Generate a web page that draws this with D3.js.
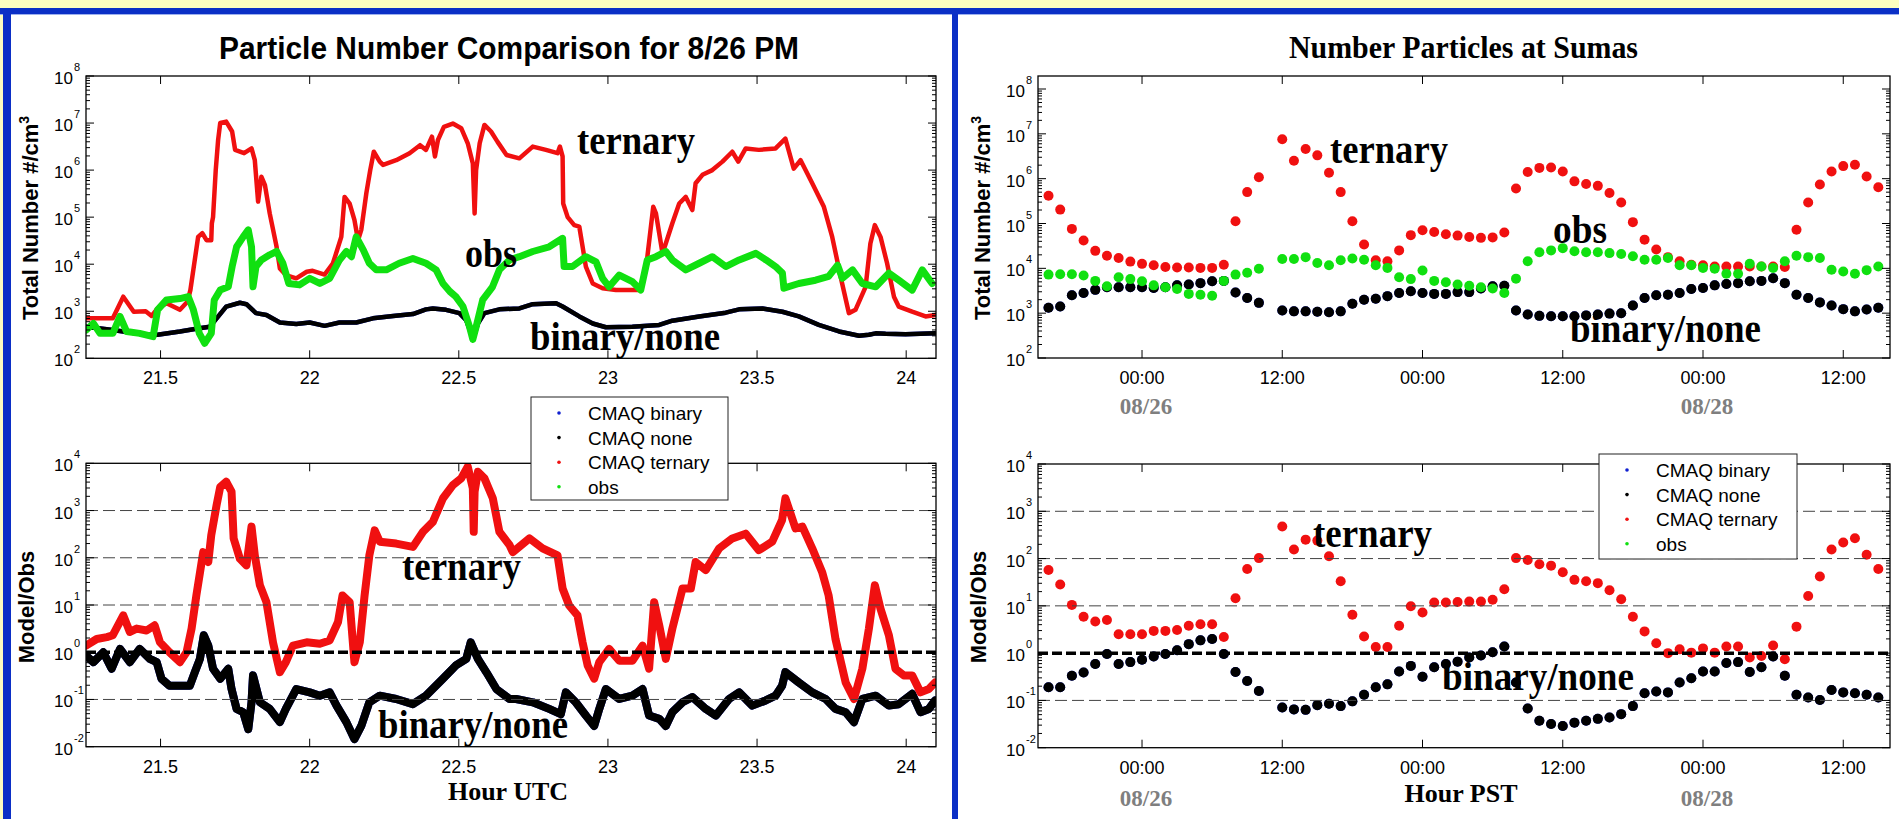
<!DOCTYPE html>
<html>
<head>
  <meta charset="utf-8">
  <script src="https://d3js.org/d3.v7.min.js"></script>
  <style>
    body { margin: 0; background: #fff; }
    text { font-family: "Liberation Sans", Arial, sans-serif; }
    .serif { font-family: "Liberation Serif", "Times New Roman", serif; font-weight: bold; }
  </style>
</head>
<body>
<svg id="fig" width="1899" height="819"></svg>
<script>
"use strict";

/*
  Left panel: 1 s data as [hour UTC, log10(value)]
*/
var cmaqTernary = [[21.25,2.85],[21.34,2.85],[21.375,3.31],[21.41,2.99],[21.45,3.0],[21.47,2.9],[21.49,3.06],[21.52,3.17],[21.565,3.03],[21.59,3.2],[21.60,3.45],[21.626,4.58],[21.64,4.66],[21.654,4.51],[21.67,4.51],[21.672,4.87],[21.676,5.0],[21.685,6.0],[21.693,6.64],[21.70,7.0],[21.72,7.03],[21.74,6.82],[21.75,6.43],[21.78,6.36],[21.805,6.46],[21.816,6.21],[21.827,5.33],[21.838,5.86],[21.85,5.68],[21.866,5.08],[21.889,4.37],[21.90,3.91],[21.92,3.77],[21.955,3.70],[21.99,3.84],[22.01,3.86],[22.05,3.78],[22.078,4.02],[22.106,4.58],[22.117,5.43],[22.134,5.29],[22.15,4.94],[22.162,4.51],[22.173,4.73],[22.19,5.51],[22.203,6.0],[22.215,6.39],[22.235,6.18],[22.246,6.11],[22.29,6.21],[22.335,6.36],[22.37,6.53],[22.39,6.43],[22.41,6.71],[22.42,6.29],[22.43,6.64],[22.45,6.92],[22.48,6.99],[22.508,6.89],[22.53,6.57],[22.547,6.14],[22.553,5.08],[22.558,6.0],[22.57,6.57],[22.586,6.96],[22.608,6.82],[22.63,6.60],[22.66,6.32],[22.703,6.25],[22.748,6.50],[22.792,6.43],[22.831,6.36],[22.839,6.50],[22.848,6.29],[22.85,5.29],[22.865,5.0],[22.887,4.83],[22.904,4.80],[22.926,3.95],[22.949,3.59],[22.982,3.49],[23.027,3.45],[23.082,3.45],[23.11,3.45],[23.127,3.88],[23.152,5.22],[23.161,5.08],[23.183,4.23],[23.194,4.44],[23.216,4.87],[23.239,5.29],[23.261,5.43],[23.283,5.15],[23.294,5.72],[23.317,5.90],[23.35,6.0],[23.384,6.18],[23.417,6.39],[23.437,6.18],[23.462,6.46],[23.506,6.43],[23.562,6.46],[23.595,6.67],[23.623,6.03],[23.646,6.21],[23.685,5.72],[23.724,5.22],[23.752,4.58],[23.78,3.74],[23.808,2.96],[23.83,3.03],[23.864,3.52],[23.88,4.44],[23.895,4.83],[23.914,4.58],[23.936,4.02],[23.959,3.31],[23.975,3.10],[24.02,2.99],[24.065,2.89],[24.097,2.92]];

var cmaqObs = [[21.25,2.60],[21.275,2.74],[21.297,2.53],[21.34,2.53],[21.364,2.89],[21.386,2.57],[21.43,2.53],[21.475,2.46],[21.49,3.03],[21.52,3.24],[21.565,3.27],[21.593,3.31],[21.61,3.03],[21.63,2.53],[21.648,2.32],[21.67,2.53],[21.68,3.24],[21.70,3.45],[21.727,3.52],[21.74,3.95],[21.755,4.37],[21.777,4.58],[21.794,4.73],[21.805,4.37],[21.81,3.52],[21.82,3.95],[21.838,4.09],[21.866,4.20],[21.889,4.27],[21.91,4.02],[21.93,3.59],[21.966,3.56],[22.0,3.70],[22.034,3.59],[22.067,3.70],[22.10,4.09],[22.123,4.27],[22.14,4.16],[22.156,4.58],[22.18,4.30],[22.20,4.02],[22.223,3.88],[22.257,3.88],[22.30,4.02],[22.346,4.12],[22.39,4.02],[22.424,3.88],[22.447,3.59],[22.47,3.42],[22.49,3.31],[22.514,3.10],[22.536,2.67],[22.547,2.40],[22.558,2.67],[22.58,3.24],[22.613,3.52],[22.636,3.88],[22.67,4.09],[22.703,4.16],[22.748,4.27],[22.803,4.37],[22.848,4.55],[22.853,3.95],[22.881,3.95],[22.926,4.16],[22.96,4.05],[22.982,3.70],[23.004,3.52],[23.038,3.77],[23.082,3.63],[23.11,3.45],[23.132,4.09],[23.161,4.16],[23.194,4.27],[23.216,4.09],[23.261,3.88],[23.306,4.02],[23.35,4.16],[23.395,3.95],[23.44,4.09],[23.496,4.23],[23.53,4.09],[23.562,3.95],[23.585,3.81],[23.59,3.49],[23.64,3.59],[23.696,3.66],[23.74,3.74],[23.77,3.98],[23.786,3.70],[23.82,3.88],[23.853,3.59],[23.898,3.52],[23.942,3.81],[23.975,3.66],[24.02,3.45],[24.054,3.88],[24.087,3.59]];

// binary and none overlap, one reading serves both
var cmaqNone = [[21.25,2.67],[21.34,2.60],[21.45,2.50],[21.49,2.50],[21.565,2.57],[21.63,2.64],[21.665,2.67],[21.688,2.85],[21.72,3.10],[21.766,3.18],[21.788,3.15],[21.82,2.96],[21.855,2.92],[21.90,2.76],[21.955,2.73],[22.0,2.76],[22.05,2.69],[22.10,2.76],[22.156,2.76],[22.212,2.85],[22.28,2.90],[22.346,2.94],[22.39,3.04],[22.413,3.06],[22.457,3.03],[22.502,2.96],[22.525,2.81],[22.54,2.55],[22.55,2.45],[22.564,2.74],[22.586,2.96],[22.636,3.04],[22.703,3.06],[22.748,3.15],[22.826,3.17],[22.848,3.10],[22.904,2.89],[22.949,2.74],[22.993,2.66],[23.082,2.67],[23.172,2.71],[23.216,2.80],[23.306,2.89],[23.395,2.97],[23.44,3.04],[23.518,3.06],[23.585,2.99],[23.64,2.89],[23.707,2.71],[23.775,2.57],[23.842,2.48],[23.875,2.50],[23.898,2.53],[23.931,2.52],[23.998,2.51],[24.097,2.53]];
var cmaqBinary = cmaqNone;

var ratioTernary = [[21.25,0.14],[21.286,0.28],[21.32,0.32],[21.34,0.36],[21.375,0.78],[21.397,0.43],[21.42,0.50],[21.453,0.46],[21.48,0.57],[21.498,0.21],[21.53,0.0],[21.565,-0.21],[21.587,0.0],[21.604,0.50],[21.62,1.20],[21.643,2.12],[21.66,1.91],[21.67,2.48],[21.688,3.12],[21.70,3.50],[21.72,3.61],[21.738,3.40],[21.745,2.41],[21.766,1.98],[21.788,1.84],[21.805,2.66],[21.816,2.05],[21.833,1.42],[21.855,1.06],[21.877,0.21],[21.90,-0.42],[21.92,-0.21],[21.944,0.14],[21.99,0.21],[22.034,0.18],[22.067,0.25],[22.095,0.64],[22.11,1.20],[22.134,1.06],[22.15,-0.21],[22.168,0.21],[22.184,1.20],[22.20,2.05],[22.218,2.58],[22.235,2.34],[22.29,2.30],[22.346,2.23],[22.38,2.55],[22.413,2.76],[22.447,3.26],[22.48,3.54],[22.508,3.68],[22.53,3.93],[22.547,3.47],[22.55,2.55],[22.553,3.40],[22.564,3.82],[22.586,3.68],[22.614,3.26],[22.636,2.55],[22.67,2.27],[22.681,2.12],[22.737,2.41],[22.781,2.20],[22.831,2.05],[22.848,1.35],[22.87,0.99],[22.898,0.78],[22.915,0.21],[22.932,-0.28],[22.954,-0.56],[22.971,-0.21],[23.004,0.07],[23.038,-0.18],[23.082,-0.18],[23.116,0.14],[23.138,-0.35],[23.155,1.06],[23.172,0.57],[23.194,-0.14],[23.216,0.50],[23.25,1.35],[23.278,1.35],[23.294,1.91],[23.328,1.74],[23.373,2.20],[23.417,2.41],[23.462,2.51],[23.506,2.16],[23.551,2.34],[23.584,2.80],[23.595,3.26],[23.612,2.94],[23.629,2.62],[23.652,2.66],[23.685,2.20],[23.718,1.70],[23.74,1.20],[23.763,0.28],[23.797,-0.64],[23.825,-0.99],[23.853,-0.35],[23.875,0.50],[23.895,1.42],[23.914,0.92],[23.942,0.36],[23.964,-0.35],[23.992,-0.49],[24.02,-0.49],[24.048,-0.85],[24.076,-0.78],[24.097,-0.64]];

var ratioNone = [[21.25,-0.07],[21.275,-0.21],[21.308,0.0],[21.336,-0.35],[21.364,0.07],[21.397,-0.21],[21.43,0.07],[21.464,-0.14],[21.487,-0.21],[21.503,-0.56],[21.53,-0.71],[21.565,-0.71],[21.598,-0.71],[21.615,-0.42],[21.632,-0.14],[21.645,0.36],[21.66,0.14],[21.676,-0.35],[21.70,-0.56],[21.727,-0.35],[21.738,-0.78],[21.755,-1.20],[21.777,-1.27],[21.794,-1.63],[21.805,-1.06],[21.81,-0.49],[21.833,-1.06],[21.866,-1.20],[21.90,-1.48],[21.92,-1.20],[21.955,-0.78],[22.0,-0.85],[22.034,-0.92],[22.067,-0.85],[22.09,-1.13],[22.123,-1.48],[22.15,-1.84],[22.173,-1.56],[22.20,-1.06],[22.235,-0.92],[22.29,-0.99],[22.346,-1.10],[22.39,-0.92],[22.447,-0.56],[22.49,-0.28],[22.525,-0.14],[22.54,0.21],[22.564,-0.14],[22.592,-0.42],[22.626,-0.78],[22.67,-0.99],[22.692,-0.99],[22.748,-1.06],[22.803,-1.20],[22.842,-1.31],[22.859,-0.85],[22.892,-1.06],[22.926,-1.34],[22.954,-1.56],[22.971,-1.20],[22.993,-0.78],[23.038,-0.99],[23.082,-0.92],[23.116,-0.78],[23.138,-1.34],[23.172,-1.41],[23.194,-1.56],[23.216,-1.27],[23.25,-1.06],[23.283,-0.95],[23.328,-1.20],[23.362,-1.34],[23.406,-0.99],[23.44,-0.85],[23.484,-1.13],[23.529,-1.02],[23.562,-0.92],[23.584,-0.71],[23.595,-0.42],[23.64,-0.64],[23.685,-0.85],[23.73,-0.99],[23.763,-1.20],[23.797,-1.27],[23.825,-1.48],[23.853,-0.99],[23.898,-0.92],[23.942,-1.13],[23.975,-1.10],[24.02,-0.88],[24.048,-1.27],[24.076,-1.20],[24.097,-1.02]];
var ratioBinary = ratioNone;

/*
  Right panel: hourly values at Sumas, hours PST from 08/26 00:00, log10
*/
var sumasHours = [-8,-7,-6,-5,-4,-3,-2,-1,0,1,2,3,4,5,6,7,8,9,10,12,13,14,15,16,17,18,19,20,21,22,23,24,25,26,27,28,29,30,31,32,33,34,35,36,37,38,39,40,41,42,43,44,45,46,47,48,49,50,51,52,53,54,55,56,57,58,59,60,61,62,63];

var sumasTernary = [5.62,5.31,4.88,4.62,4.39,4.28,4.23,4.15,4.10,4.07,4.03,4.02,4.02,4.01,4.01,4.08,5.05,5.70,6.03,6.88,6.40,6.66,6.52,6.13,5.70,5.05,4.53,4.18,4.16,4.40,4.74,4.85,4.81,4.76,4.73,4.70,4.68,4.69,4.80,5.78,6.15,6.24,6.25,6.16,5.94,5.88,5.84,5.68,5.47,5.03,4.64,4.42,4.25,4.16,4.08,4.07,4.04,4.04,4.04,4.04,4.04,4.04,4.03,4.86,5.47,5.87,6.16,6.28,6.31,6.05,5.81];
var sumasObs = [3.86,3.87,3.87,3.84,3.72,3.60,3.80,3.76,3.71,3.62,3.58,3.54,3.43,3.41,3.39,3.72,3.86,3.90,3.99,4.21,4.21,4.25,4.12,4.07,4.18,4.22,4.19,4.07,4.01,3.80,3.76,3.95,3.72,3.69,3.64,3.61,3.58,3.55,3.45,3.77,4.16,4.36,4.40,4.45,4.38,4.36,4.36,4.34,4.32,4.27,4.19,4.19,4.23,4.07,4.07,4.01,3.99,3.88,3.88,4.10,4.04,4.01,4.16,4.28,4.25,4.23,3.97,3.93,3.88,3.96,4.04];
var sumasNone = [3.12,3.15,3.40,3.45,3.52,3.58,3.58,3.58,3.58,3.56,3.58,3.62,3.64,3.67,3.71,3.72,3.46,3.34,3.23,3.06,3.04,3.04,3.03,3.02,3.04,3.21,3.30,3.32,3.38,3.45,3.49,3.45,3.43,3.43,3.47,3.47,3.55,3.60,3.61,3.06,2.97,2.94,2.93,2.93,2.93,2.95,2.97,2.99,3.00,3.17,3.34,3.40,3.41,3.45,3.54,3.56,3.62,3.65,3.67,3.71,3.72,3.78,3.67,3.41,3.34,3.24,3.17,3.09,3.04,3.08,3.12];
var sumasBinary = sumasNone;

var sumasRatioTernary = [1.76,1.45,1.02,0.77,0.67,0.70,0.40,0.40,0.40,0.47,0.47,0.49,0.58,0.61,0.61,0.34,1.16,1.78,2.01,2.68,2.19,2.40,2.38,2.05,1.52,0.81,0.35,0.13,0.13,0.58,0.99,0.86,1.07,1.07,1.08,1.09,1.09,1.13,1.35,2.01,1.97,1.88,1.85,1.71,1.55,1.52,1.48,1.33,1.14,0.77,0.46,0.21,0.00,0.08,0.01,0.10,0.01,0.14,0.14,-0.09,-0.06,0.16,-0.13,0.56,1.21,1.62,2.19,2.34,2.43,2.08,1.78];
var sumasRatioNone = [-0.72,-0.72,-0.48,-0.41,-0.23,-0.02,-0.23,-0.19,-0.14,-0.07,-0.02,0.06,0.19,0.27,0.30,-0.02,-0.40,-0.59,-0.80,-1.15,-1.19,-1.20,-1.10,-1.07,-1.12,-1.02,-0.88,-0.72,-0.66,-0.39,-0.27,-0.50,-0.30,-0.23,-0.18,-0.09,-0.05,0.02,0.14,-0.62,-1.17,-1.43,-1.50,-1.54,-1.47,-1.43,-1.39,-1.36,-1.29,-1.12,-0.85,-0.81,-0.83,-0.62,-0.53,-0.39,-0.39,-0.21,-0.19,-0.40,-0.30,-0.07,-0.48,-0.88,-0.94,-0.99,-0.78,-0.83,-0.85,-0.88,-0.94];
var sumasRatioBinary = sumasRatioNone;

var utcTicks = [21.5, 22, 22.5, 23, 23.5, 24];
var pstTicks = [0, 12, 24, 36, 48, 60];
var pstTickLabels = ["00:00", "12:00", "00:00", "12:00", "00:00", "12:00"];
var dateTicks = [0, 48];
var dateLabels = ["08/26", "08/28"];
var ratioGrid = [1e3, 1e2, 1e1, 1e-1];
var legendNames = ["CMAQ binary", "CMAQ none", "CMAQ ternary", "obs"];
var seriesColors = ["#1020d0", "#000000", "#f01010", "#10e010"];

/*
  Page setup
*/
var svg = d3.select("#fig");
var blue = "#0b2fc6";
svg.append("rect").attr("width", 1899).attr("height", 819).attr("fill", "#fff");
svg.append("rect").attr("width", 1899).attr("height", 8).attr("fill", "#fdfdc0");
svg.append("rect").attr("width", 3).attr("height", 819).attr("fill", "#fdfdc0");
svg.append("rect").attr("y", 8).attr("width", 1899).attr("height", 6).attr("fill", blue);
svg.append("rect").attr("y", 14).attr("width", 1899).attr("height", 1).attr("fill", "#9db0ee");
svg.append("rect").attr("x", 3).attr("y", 8).attr("width", 8).attr("height", 811).attr("fill", blue);
svg.append("rect").attr("x", 952).attr("y", 8).attr("width", 6).attr("height", 811).attr("fill", blue);

var clipId = 0;
function pow10(v) { return Math.pow(10, v); }

// matlab style box: ticks inside on all four sides, log minor ticks on y
function drawBox(x, y, xTicks, xLabels) {
  var g = svg.append("g");
  var x0 = x.range()[0], x1 = x.range()[1];
  var yb = y.range()[0], yt = y.range()[1];
  var lo = Math.log10(y.domain()[0]), hi = Math.log10(y.domain()[1]);
  for (var k = Math.floor(lo); k <= Math.ceil(hi); k++) {
    for (var m = 1; m < 10; m++) {
      var lv = Math.log10(m * Math.pow(10, k));
      if (lv < lo - 1e-6 || lv > hi + 1e-6) continue;
      var yy = y(pow10(lv));
      var len = m === 1 ? 8 : 4;
      g.append("line").attr("x1", x0).attr("x2", x0 + len).attr("y1", yy).attr("y2", yy)
        .attr("stroke", "#000").attr("stroke-width", 1);
      g.append("line").attr("x1", x1).attr("x2", x1 - len).attr("y1", yy).attr("y2", yy)
        .attr("stroke", "#000").attr("stroke-width", 1);
    }
  }
  for (var e = Math.ceil(lo - 1e-6); e <= Math.floor(hi + 1e-6); e++) {
    var ty = y(pow10(e));
    g.append("text").attr("x", x0 - 13).attr("y", ty + 8).attr("text-anchor", "end")
      .attr("font-size", 17).text("10");
    g.append("text").attr("x", x0 - 12).attr("y", ty - 5).attr("font-size", 11).text(e);
  }
  xTicks.forEach(function(t, i) {
    var xx = x(t);
    g.append("line").attr("x1", xx).attr("x2", xx).attr("y1", yb).attr("y2", yb - 8)
      .attr("stroke", "#000");
    g.append("line").attr("x1", xx).attr("x2", xx).attr("y1", yt).attr("y2", yt + 8)
      .attr("stroke", "#000");
    g.append("text").attr("x", xx).attr("y", yb + 26).attr("text-anchor", "middle")
      .attr("font-size", 18).text(xLabels[i]);
  });
  g.append("rect").attr("x", x0).attr("y", yt).attr("width", x1 - x0).attr("height", yb - yt)
    .attr("fill", "none").attr("stroke", "#000").attr("stroke-width", 1.3);
}

function makeClip(x, y) {
  clipId += 1;
  var id = "clip" + clipId;
  svg.append("clipPath").attr("id", id).append("rect")
    .attr("x", x.range()[0]).attr("y", y.range()[1])
    .attr("width", x.range()[1] - x.range()[0]).attr("height", y.range()[0] - y.range()[1]);
  return "url(#" + id + ")";
}

function drawLine(x, y, clip, data, color, width) {
  var line = d3.line().x(function(d) { return x(d[0]); }).y(function(d) { return y(pow10(d[1])); });
  svg.append("path").datum(data).attr("d", line).attr("clip-path", clip)
    .attr("fill", "none").attr("stroke", color).attr("stroke-width", width)
    .attr("stroke-linejoin", "round").attr("stroke-linecap", "round");
}

function drawDots(x, y, clip, values, color) {
  svg.append("g").attr("clip-path", clip).selectAll("circle").data(values).enter()
    .append("circle")
      .attr("cx", function(d, i) { return x(sumasHours[i]); })
      .attr("cy", function(d) { return y(pow10(d)); })
      .attr("r", 5).attr("fill", color);
}

function drawRatioGrid(x, y) {
  ratioGrid.forEach(function(v) {
    svg.append("line").attr("x1", x.range()[0]).attr("x2", x.range()[1])
      .attr("y1", y(v)).attr("y2", y(v))
      .attr("stroke", "#444").attr("stroke-width", 1).attr("stroke-dasharray", "12,5");
  });
  svg.append("line").attr("x1", x.range()[0]).attr("x2", x.range()[1])
    .attr("y1", y(1)).attr("y2", y(1))
    .attr("stroke", "#000").attr("stroke-width", 3.5).attr("stroke-dasharray", "10,4");
}

function yTitle(cx, cy, label, sup) {
  var t = svg.append("text").attr("transform", "translate(" + cx + "," + cy + ") rotate(-90)")
    .attr("text-anchor", "middle").attr("font-size", 22).attr("font-weight", "bold").text(label);
  if (sup) t.append("tspan").attr("dy", -9).attr("font-size", 14).text(sup);
}

function bigLabel(txt, x, y, w) {
  svg.append("text").attr("class", "serif").attr("x", x).attr("y", y)
    .attr("font-size", 40).attr("textLength", w).attr("lengthAdjust", "spacingAndGlyphs")
    .text(txt);
}

function legend(x, y, w, h) {
  var g = svg.append("g");
  g.append("rect").attr("x", x).attr("y", y).attr("width", w).attr("height", h)
    .attr("fill", "#fff").attr("stroke", "#222").attr("stroke-width", 1);
  legendNames.forEach(function(n, i) {
    var ry = y + 16 + i * 24.6;
    g.append("circle").attr("cx", x + 28).attr("cy", ry).attr("r", 1.8).attr("fill", seriesColors[i]);
    g.append("text").attr("x", x + 57).attr("y", ry + 7).attr("font-size", 19).text(n);
  });
}

/*
  Left: Particle Number Comparison for 8/26 PM
*/
var xUtc = d3.scaleLinear().domain([21.25, 24.1]).range([86, 936]);
var yNumL = d3.scaleLog().domain([1e2, 1e8]).range([358.3, 76]);
var yRatL = d3.scaleLog().domain([1e-2, 1e4]).range([746.7, 463.3]);

var c1 = makeClip(xUtc, yNumL);
drawLine(xUtc, yNumL, c1, cmaqBinary, seriesColors[0], 4.5);
drawLine(xUtc, yNumL, c1, cmaqNone, seriesColors[1], 4.5);
drawLine(xUtc, yNumL, c1, cmaqTernary, seriesColors[2], 4.5);
drawLine(xUtc, yNumL, c1, cmaqObs, seriesColors[3], 7);
drawBox(xUtc, yNumL, utcTicks, utcTicks.map(String));

var c2 = makeClip(xUtc, yRatL);
drawLine(xUtc, yRatL, c2, ratioBinary, seriesColors[0], 8);
drawLine(xUtc, yRatL, c2, ratioNone, seriesColors[1], 8);
drawLine(xUtc, yRatL, c2, ratioTernary, seriesColors[2], 8);
drawRatioGrid(xUtc, yRatL);
drawBox(xUtc, yRatL, utcTicks, utcTicks.map(String));

svg.append("text").attr("x", 219).attr("y", 59).attr("font-size", 31).attr("font-weight", "bold")
  .attr("textLength", 580).attr("lengthAdjust", "spacingAndGlyphs")
  .text("Particle Number Comparison for 8/26 PM");
yTitle(38, 218, "Total Number #/cm", "3");
yTitle(34, 607, "Model/Obs");
svg.append("text").attr("class", "serif").attr("x", 508).attr("y", 800)
  .attr("text-anchor", "middle").attr("font-size", 26).text("Hour UTC");

bigLabel("ternary", 577, 154, 118);
bigLabel("obs", 465, 267, 52);
bigLabel("binary/none", 530, 350, 190);
bigLabel("ternary", 402, 580, 119);
bigLabel("binary/none", 378, 738, 190);
legend(531, 397, 197, 103);

/*
  Right: Number Particles at Sumas
*/
var xPst = d3.scaleLinear().domain([-8.9, 64]).range([1038, 1890]);
var yNumR = d3.scaleLog().domain([1e2, Math.pow(10, 8.29)]).range([358, 76]);
var yRatR = d3.scaleLog().domain([1e-2, 1e4]).range([747.7, 464]);

var c3 = makeClip(xPst, yNumR);
drawDots(xPst, yNumR, c3, sumasBinary, seriesColors[0]);
drawDots(xPst, yNumR, c3, sumasNone, seriesColors[1]);
drawDots(xPst, yNumR, c3, sumasTernary, seriesColors[2]);
drawDots(xPst, yNumR, c3, sumasObs, seriesColors[3]);
drawBox(xPst, yNumR, pstTicks, pstTickLabels);

var c4 = makeClip(xPst, yRatR);
drawDots(xPst, yRatR, c4, sumasRatioBinary, seriesColors[0]);
drawDots(xPst, yRatR, c4, sumasRatioNone, seriesColors[1]);
drawDots(xPst, yRatR, c4, sumasRatioTernary, seriesColors[2]);
drawRatioGrid(xPst, yRatR);
drawBox(xPst, yRatR, pstTicks, pstTickLabels);

[414, 806].forEach(function(by) {
  dateTicks.forEach(function(t, i) {
    svg.append("text").attr("class", "serif").attr("x", xPst(t) + 4).attr("y", by)
      .attr("text-anchor", "middle").attr("font-size", 23).attr("fill", "#7f7f7f")
      .text(dateLabels[i]);
  });
});

svg.append("text").attr("class", "serif").attr("x", 1289).attr("y", 58).attr("font-size", 31)
  .attr("textLength", 349).attr("lengthAdjust", "spacingAndGlyphs")
  .text("Number Particles at Sumas");
yTitle(990, 218, "Total Number #/cm", "3");
yTitle(986, 607, "Model/Obs");
svg.append("text").attr("class", "serif").attr("x", 1461).attr("y", 802)
  .attr("text-anchor", "middle").attr("font-size", 26).text("Hour PST");

bigLabel("ternary", 1330, 163, 118);
bigLabel("obs", 1553, 243, 54);
bigLabel("binary/none", 1570, 342, 191);
bigLabel("ternary", 1313, 547, 119);
bigLabel("binary/none", 1442, 690, 192);
legend(1599, 454, 198, 105);
</script>
</body>
</html>
